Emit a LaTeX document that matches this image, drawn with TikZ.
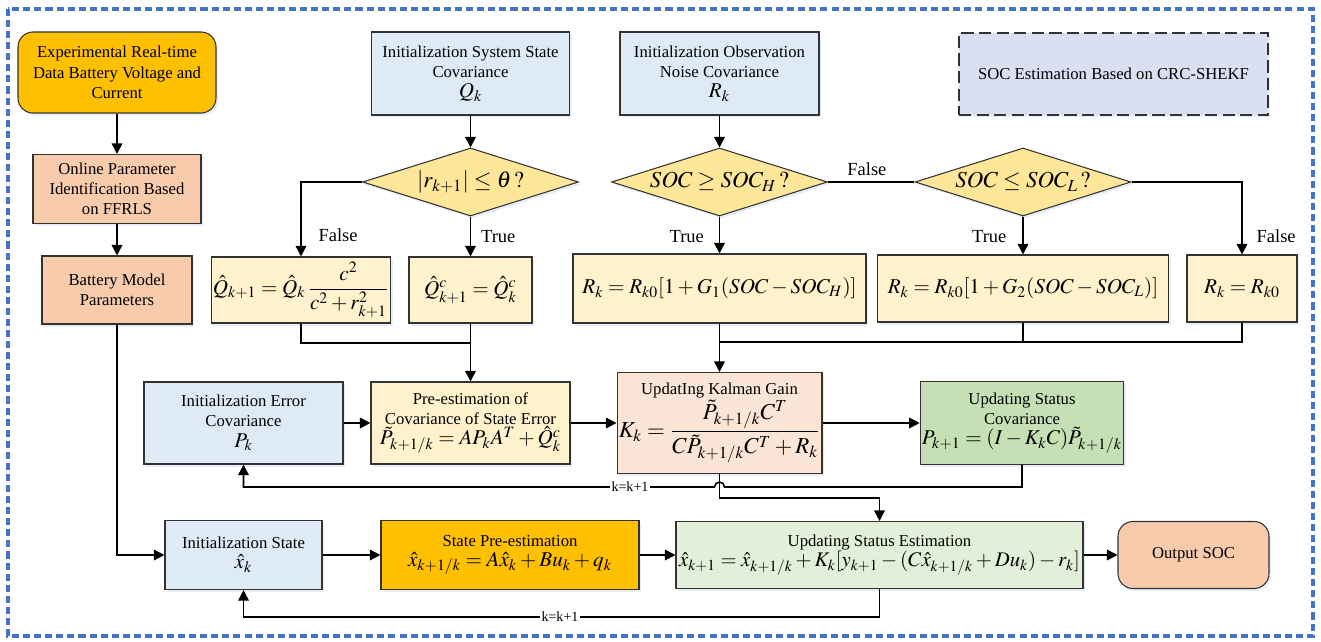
\documentclass[tikz,border=0pt]{standalone}
\usepackage{mathptmx}
\usepackage{amsmath}
\usepackage{fontspec}
\setmainfont{Liberation Serif}
\usepackage{tikz}
\usetikzlibrary{shapes.geometric}
\usetikzlibrary{shadows}
\usetikzlibrary{positioning, arrows.meta}

\definecolor{frameblue}{RGB}{68,114,196}
\definecolor{initblue}{RGB}{222,235,247}
\definecolor{cream}{RGB}{255,242,204}
\definecolor{decgold}{RGB}{255,230,153}
\definecolor{amber}{RGB}{255,192,0}
\definecolor{salmon}{RGB}{248,203,173}
\definecolor{peach}{RGB}{251,229,214}
\definecolor{leafgreen}{RGB}{197,224,180}
\definecolor{mintgreen}{RGB}{226,240,217}
\definecolor{lavender}{RGB}{218,224,242}

\newcommand{\formula}[1]{{\fontsize{12}{14}\selectfont$#1$}}

\begin{document}
\begin{tikzpicture}
        % Define styles for shapes
        \tikzset{
            softshadow/.style={drop shadow={shadow xshift=0.04cm, shadow yshift=-0.05cm, fill=frameblue!40, opacity=0.3}},
            flowbox/.style={draw=black!80, line width=0.6pt, align=center, inner sep=1pt, font=\fontsize{9.5}{11.5}\selectfont, softshadow},
            decision/.style={draw=black!80, line width=0.6pt, diamond, aspect=3.2, inner sep=0pt, fill=decgold, minimum width=4.32cm, minimum height=1.36cm, font=\fontsize{13}{15}\selectfont, softshadow},
            arrow/.style={-{Triangle[length=6pt,width=6pt]}, line width=0.9pt},
            plainline/.style={line width=0.9pt},
            branch/.style={font=\fontsize{10.5}{12}\selectfont},
            counter/.style={font=\fontsize{8}{9}\selectfont, fill=white, inner sep=1pt}
        }
        \useasboundingbox (0,0) rectangle (26.42,-12.82);
        \draw[frameblue, line width=2pt, dash pattern=on 4pt off 2.3pt] (0.16,-0.18) rectangle (26.26,-12.72);

        % Draw shapes
        \node[flowbox, fill=amber, rounded corners=0.3cm, minimum width=3.96cm, minimum height=1.62cm] (exp) at (2.34,-1.45) {Experimental Real-time\\Data Battery Voltage and\\Current};
        \node[flowbox, fill=salmon, minimum width=3.36cm, minimum height=1.38cm] (online) at (2.34,-3.78) {Online Parameter\\Identification Based\\on FFRLS};
        \node[flowbox, fill=salmon, minimum width=3cm, minimum height=1.36cm] (battery) at (2.34,-5.8) {Battery Model\\Parameters};

        \node[flowbox, fill=initblue, minimum width=3.96cm, minimum height=1.66cm] (initq) at (9.41,-1.47) {Initialization System State\\Covariance\\\formula{Q_k}};
        \node[flowbox, fill=initblue, minimum width=3.98cm, minimum height=1.66cm] (initr) at (14.39,-1.47) {Initialization Observation\\Noise Covariance\\\formula{R_k}};
        \node[flowbox, fill=lavender, dashed, dash pattern=on 7pt off 3pt, minimum width=6.18cm, minimum height=1.64cm] (socbox) at (22.27,-1.48) {SOC Estimation Based on CRC-SHEKF};

        \node[decision] (dia1) at (9.41,-3.64) {$\left|r_{k+1}\right| \le \theta\,?$};
        \node[decision] (dia2) at (14.39,-3.64) {$SOC \ge SOC_H\,?$};
        \node[decision] (dia3) at (20.46,-3.64) {$SOC \le SOC_L\,?$};

        \node[flowbox, fill=cream, minimum width=3.52cm, minimum height=1.32cm] (qhat) at (6.02,-5.8) {\formula{\hat{Q}_{k+1} = \hat{Q}_k\,\dfrac{c^2}{c^2 + r_{k+1}^2}}};
        \node[flowbox, fill=cream, minimum width=2.46cm, minimum height=1.32cm] (qc) at (9.41,-5.8) {\formula{\hat{Q}^c_{k+1} = \hat{Q}^c_k}};
        \node[flowbox, fill=cream, minimum width=5.86cm, minimum height=1.38cm] (rg1) at (14.39,-5.77) {\formula{R_k = R_{k0}[1 + G_1(SOC - SOC_H)]}};
        \node[flowbox, fill=cream, minimum width=5.82cm, minimum height=1.34cm] (rg2) at (20.46,-5.77) {\formula{R_k = R_{k0}[1 + G_2(SOC - SOC_L)]}};
        \node[flowbox, fill=cream, minimum width=2.2cm, minimum height=1.34cm] (r0) at (24.84,-5.77) {\formula{R_k = R_{k0}}};

        \node[flowbox, fill=initblue, minimum width=3.98cm, minimum height=1.64cm] (initp) at (4.87,-8.46) {Initialization Error\\Covariance\\\formula{P_k}};
        \node[flowbox, fill=cream, minimum width=3.98cm, minimum height=1.64cm] (prep) at (9.41,-8.46) {Pre-estimation of\\Covariance of State Error\\\formula{\tilde{P}_{k+1/k} = AP_kA^T + \hat{Q}^c_k}};
        \node[flowbox, fill=peach, minimum width=3.98cm, minimum height=2.02cm] (kal) at (14.39,-8.46) {UpdatIng Kalman Gain\\{\fontsize{13}{15}\selectfont$K_k = \dfrac{\tilde{P}_{k+1/k}C^T}{C\tilde{P}_{k+1/k}C^T + R_k}$}};
        \node[flowbox, fill=leafgreen, minimum width=4cm, minimum height=1.66cm] (stcov) at (20.44,-8.46) {Updating Status\\Covariance\\\formula{P_{k+1} = (I - K_kC)\tilde{P}_{k+1/k}}};

        \node[flowbox, fill=initblue, minimum width=3.14cm, minimum height=1.38cm] (initx) at (4.87,-11.1) {Initialization State\\\formula{\hat{x}_k}};
        \node[flowbox, fill=amber, minimum width=5.16cm, minimum height=1.38cm] (prex) at (10.2,-11.1) {State Pre-estimation\\\formula{\hat{x}_{k+1/k} = A\hat{x}_k + Bu_k + q_k}};
        \node[flowbox, fill=mintgreen, minimum width=8.14cm, minimum height=1.34cm] (updx) at (17.59,-11.1) {Updating Status Estimation\\{\fontsize{11.8}{14}\selectfont$\hat{x}_{k+1} = \hat{x}_{k+1/k} + K_k[y_{k+1} - (C\hat{x}_{k+1/k} + Du_k) - r_k]$}};
        \node[flowbox, fill=salmon, rounded corners=0.3cm, minimum width=3.02cm, minimum height=1.34cm] (outsoc) at (23.87,-11.1) {Output SOC};

        % Draw arrows
        \draw[arrow] (exp) -- (online);
        \draw[arrow] (online) -- (battery);
        \draw[arrow] (battery) |- (initx);
        \draw[arrow] (initq) -- (dia1);
        \draw[arrow] (initr) -- (dia2);
        \draw[arrow] (dia1.west) -| node[branch, pos=0.86, right=0.22cm] {False} (qhat.north);
        \draw[arrow] (dia1) -- node[branch, pos=0.5, right=0.08cm] {True} (qc);
        \draw[arrow] (dia2) -- node[branch, pos=0.55, left=0.18cm] {True} (rg1);
        \draw[plainline] (dia2) -- node[branch, pos=0.45, above] {False} (dia3);
        \draw[arrow] (dia3) -- node[branch, pos=0.54, left=0.2cm] {True} (rg2);
        \draw[arrow] (dia3.east) -| node[branch, pos=0.875, right=0.16cm] {False} (r0.north);

        % Joining lines
        \coordinate (qjoin) at (9.41,-6.86);
        \coordinate (rjoin) at (14.39,-6.84);
        \draw[plainline] (qhat.south) |- (qjoin);
        \draw[arrow] (qc) -- (prep);
        \draw[plainline] (rg2.south) |- (rjoin);
        \draw[plainline] (r0.south) |- (rjoin);
        \draw[arrow] (rg1) -- (kal);

        \draw[arrow] (initp) -- (prep);
        \draw[arrow] (prep) -- (kal);
        \draw[arrow] (kal) -- (stcov);
        \draw[arrow] (initx) -- (prex);
        \draw[arrow] (prex) -- (updx);
        \draw[arrow] (updx) -- (outsoc);

        % Feedback loops
        \coordinate (hopR) at (14.49,-9.74);
        \coordinate (kturn) at (14.39,-9.96);
        \coordinate (xturn) at (17.59,-12.34);
        \draw[arrow] (stcov.south) |- (hopR) arc[start angle=0, end angle=180, radius=0.1cm] -| (initp.south);
        \draw[arrow] (kal.south) -- (kturn) -| (updx.north);
        \draw[arrow] (updx.south) -- (xturn) -| (initx.south);
        \node[counter] (kk1) at (12.6,-9.74) {k=k+1};
        \node[counter] (kk2) at (11.2,-12.34) {k=k+1};
\end{tikzpicture}
\end{document}
